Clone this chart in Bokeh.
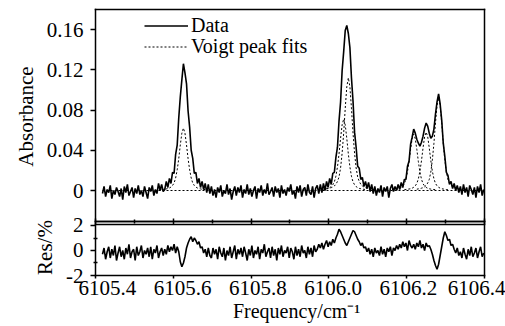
import math
from bokeh.plotting import figure
from bokeh.models import (Range1d, Legend, LegendItem, FixedTicker, LinearAxis, Label)
from bokeh.embed import file_html
from bokeh.resources import INLINE

# ---------------- data ----------------
freq_start = 6105.418      # cm-1, first sample
freq_step = 0.004          # cm-1, sampling step

absorbance = [
    -.003, .004, -.006, .001, -.002, .005, -.008, .000, -.004, .003,
    -.001, -.006, .002, -.009, .004, -.002, .006, -.005, -.001, .003,
    -.007, .002, -.003, .005, -.004, .000, -.006, .004, -.002, -.008,
    .003, -.001, .005, -.005, .001, -.003, .007, .000, .006, -.001,
    .001, .009, .003, .012, .007, .018, .017, .036, .045, .072,
    .093, .110, .126, .117, .106, .079, .063, .040, .032, .017,
    .018, .007, .012, .003, .009, .001, .007, -.002, .006, -.003,
    .004, -.005, .001, -.007, .003, -.002, .005, -.006, .000, -.003,
    .006, -.004, .002, -.009, -.001, .004, -.005, .003, -.002, .005,
    -.007, .001, -.003, .006, -.004, .002, -.006, .000, .004, -.008,
    .002, -.002, .005, -.005, .001, -.003, .007, -.004, -.001, .003,
    -.006, .004, -.002, .002, -.007, .005, -.003, .001, -.005, .003,
    -.001, .006, -.004, .000, -.008, .004, -.002, .005, -.006, .001,
    .003, -.005, .006, -.002, -.004, .004, -.007, .002, .005, -.003,
    .006, -.002, .007, .000, .009, .003, .012, .006, .017, .018,
    .033, .043, .069, .088, .119, .138, .159, .164, .156, .142,
    .112, .089, .058, .043, .024, .022, .011, .013, .004, .009,
    .002, .008, -.001, .006, -.003, .004, -.005, .002, -.002, .005,
    -.006, .003, -.001, .004, -.007, .002, .006, -.001, .004, .000,
    .006, .001, .008, .003, .011, .011, .024, .029, .046, .053,
    .061, .057, .051, .047, .044, .048, .054, .062, .067, .064,
    .057, .052, .054, .061, .076, .088, .096, .086, .070, .047,
    .034, .018, .015, .006, .009, .002, .007, .000, .005, -.002,
    .004, -.004, .006, -.002, .003, -.006, .005, .001, -.004, .003,
    -.007, .004, -.002, .006, -.005, .001,
]

residual_pct = [
    -.3, .2, -.7, -.1, .3, -.6, .1, -.4, .4, -.8,
    -.2, .3, -.5, .0, -.7, .2, -.3, .5, -.6, -.1,
    .1, -.8, .3, -.4, -.1, .4, -.6, .0, -.3, .2,
    -.5, .3, -.7, .1, -.2, .4, -.6, -.1, .2, -.4,
    .1, -.3, .4, -.1, .3, .0, .5, -.2, .3, -.1,
    -.9, -1.3, -1.0, -.5, .2, .6, .9, 1.1, .7, 1.0,
    .8, .5, .7, .2, .3, -.2, .1, -.5, .2, -.4,
    -.6, .2, -.3, .1, -.7, .3, -.2, -.5, .2, -.8,
    .0, -.4, .3, -.6, -.1, .4, -.7, .1, -.3, .2,
    -.5, .3, -.2, -.8, .1, -.4, .4, -.6, .0, -.3,
    .3, -.7, .1, -.2, .5, -.5, -.1, .2, -.6, .3,
    -.4, .1, -.8, .2, -.3, .4, -.5, .0, -.2, .3,
    -.6, .2, -.1, -.7, .3, -.4, .1, -.5, .4, -.2,
    .0, -.6, .3, -.3, .2, -.5, .4, -.1, .1, .5,
    .2, .6, .1, .5, .8, .3, .7, .4, .9, .6,
    1.0, 1.3, 1.7, 1.5, 1.2, .9, .6, .4, .7, 1.0,
    1.3, 1.6, 1.5, 1.2, .9, .7, .4, .6, .2, .3,
    -.1, .2, -.3, .1, -.5, .2, -.2, .0, -.4, .3,
    -.3, .1, -.5, .2, -.1, .3, -.4, .2, .0, .4,
    .1, .5, .2, .7, .3, .6, .0, .8, .4, .2,
    .5, .1, .6, .3, .8, .2, .5, .0, .6, .3,
    .4, .1, -.3, -.8, -1.2, -1.5, -1.1, -.4, .3, 1.0,
    1.5, 1.2, .8, .9, .4, .5, .1, -.2, .2, -.4,
    -.1, -.6, .2, -.3, -.7, .1, -.4, .3, -.5, -.2,
    .2, -.6, -.1, .3, -.5, -.2,
]

# Voigt peak-fit components, sampled on the same step, each from its start frequency
fit_starts = [6105.570, 6105.982, 6105.994, 6106.162, 6106.194, 6106.226]
fit_peak1 = [.0009, .0011, .0012, .0016, .0019, .0025, .0034, .005, .0074, .0124, .0205, .0316, .0453, .057, .062,
             .057, .0453, .0316, .0205, .0124, .0074, .005, .0034, .0025, .0019, .0016, .0012, .0011, .0009]
fit_peak2a = [.001, .0012, .0014, .0018, .0021, .0028, .0039, .0057, .0085, .0142, .0234, .0362, .0518, .0653, .071,
              .0653, .0518, .0362, .0234, .0142, .0085, .0057, .0039, .0028, .0021, .0018, .0014, .0012, .001]
fit_peak2b = [.0016, .0019, .0022, .0028, .0034, .0045, .0062, .009, .0134, .0224, .037, .0571, .0818, .103, .112,
              .103, .0818, .0571, .037, .0224, .0134, .009, .0062, .0045, .0034, .0028, .0022, .0019, .0016]
fit_peak3a = [.0008, .001, .0011, .0014, .0017, .0022, .0031, .0045, .0067, .0112, .0185, .0286, .0409, .0515, .056,
              .0515, .0409, .0286, .0185, .0112, .0067, .0045, .0031, .0022, .0017, .0014, .0011, .001, .0008]
fit_peak3b = [.0008, .001, .0012, .0015, .0017, .0023, .0032, .0046, .007, .0116, .0191, .0296, .0423, .0534, .058,
              .0534, .0423, .0296, .0191, .0116, .007, .0046, .0032, .0023, .0017, .0015, .0012, .001, .0008]
fit_peak3c = [.0013, .0016, .0018, .0023, .0028, .0037, .0051, .0074, .011, .0184, .0304, .0469, .0672, .0846, .092,
              .0846, .0672, .0469, .0304, .0184, .011, .0074, .0051, .0037, .0028, .0023, .0018, .0016, .0013]
fit_components = [fit_peak1, fit_peak2a, fit_peak2b, fit_peak3a, fit_peak3b, fit_peak3c]
fit_baseline = [0.0, 0.0]

x_ticks = [6105.4, 6105.6, 6105.8, 6106.0, 6106.2, 6106.4]
x_tick_labels = ["6105.4", "6105.6", "6105.8", "6106.0", "6106.2", "6106.4"]
x_minor_ticks = [6105.5, 6105.7, 6105.9, 6106.1, 6106.3]
abs_ticks = [0, 0.04, 0.08, 0.12, 0.16]
abs_tick_labels = ["0", "0.04", "0.08", "0.12", "0.16"]
res_ticks = [-2, 0, 2]
res_tick_labels = ["-2", "0", "2"]
res_minor_ticks = [-1, 1]

# ---------------- layout constants ----------------
# the plotting area covers the whole canvas; panels are drawn with fixed axes
X_LO, X_HI = 6105.155784, 6106.453985
LAB_LO, LAB_HI = 6105.115426, 6106.458511  # the original's tick labels sit on a slightly tighter scale
ABS_LO, ABS_HI = -0.135155, 0.188820       # absorbance scale
RES_LO, RES_HI = -6.08, 20.0               # residual (%) scale
panel_x = (6105.4, 6106.4)
abs_panel_top, abs_panel_bottom = 0.179876, -0.030311
res_panel_top, res_panel_bottom = 2.04, -2.0

FONT = "'Liberation Serif', 'Times New Roman', Times, serif"


def res_on_abs(r):
    return round(ABS_LO + (r - RES_LO) * (ABS_HI - ABS_LO) / (RES_HI - RES_LO), 6)


n = len(absorbance)
freq = [round(freq_start + freq_step * i, 3) for i in range(n)]

p = figure(width=505, height=326, output_backend="svg", toolbar_location=None,
           x_range=Range1d(X_LO, X_HI), y_range=Range1d(ABS_LO, ABS_HI),
           x_axis_location=None, y_axis_location=None, min_border=0)
p.extra_y_ranges = {"res": Range1d(RES_LO, RES_HI)}
p.extra_x_ranges = {"lab": Range1d(LAB_LO, LAB_HI)}
p.grid.visible = False
p.outline_line_color = None
p.background_fill_color = "white"
p.border_fill_color = "white"


def make_axis(loc, bounds, ticks=(), minor=(), **kw):
    ax = LinearAxis(fixed_location=loc, bounds=bounds,
                    ticker=FixedTicker(ticks=list(ticks), minor_ticks=list(minor)))
    ax.axis_line_width = 1.5
    ax.axis_line_color = "black"
    ax.axis_line_cap = "square"
    ax.major_tick_line_width = 1.5
    ax.minor_tick_line_width = 1.5
    ax.major_tick_line_color = "black"
    ax.minor_tick_line_color = "black"
    ax.major_tick_in = 0
    ax.major_tick_out = 0
    ax.minor_tick_in = 0
    ax.minor_tick_out = 0
    ax.major_label_text_font = FONT
    ax.major_label_text_font_size = "21px"
    ax.major_label_text_color = "black"
    for k, v in kw.items():
        setattr(ax, k, v)
    return ax


abs_bounds = (res_on_abs(res_panel_bottom), abs_panel_top)

# left axis: absorbance ticks and residual ticks on one line
y_ticks = list(abs_ticks) + [res_on_abs(r) for r in res_ticks]
y_labels = list(abs_tick_labels) + list(res_tick_labels)
left_ax = make_axis(panel_x[0], abs_bounds, y_ticks, [res_on_abs(r) for r in res_minor_ticks],
                    major_tick_out=5, minor_tick_in=2, minor_tick_out=2, major_label_standoff=7,
                    major_label_overrides=dict(zip(y_ticks, y_labels)))
p.add_layout(left_ax, "left")
p.add_layout(make_axis(panel_x[1], abs_bounds), "right")
p.add_layout(make_axis(abs_panel_top, panel_x), "above")

# bottom axis: tick marks on the data scale, labels where the original prints them
p.add_layout(make_axis(res_on_abs(res_panel_bottom), panel_x, [], x_ticks, minor_tick_out=3), "below")
label_ax = make_axis(res_on_abs(res_panel_bottom), panel_x, x_ticks, [],
                     x_range_name="lab", axis_line_color=None, major_label_standoff=5,
                     major_label_overrides=dict(zip(x_ticks, x_tick_labels)))
p.add_layout(label_ax, "below")

# separators between the panels (ticks crossing the upper one)
p.add_layout(make_axis(abs_panel_bottom, panel_x, [], x_ticks, minor_tick_in=3, minor_tick_out=3), "below")
p.add_layout(make_axis(abs_panel_bottom, panel_x, [], x_minor_ticks, minor_tick_in=2, minor_tick_out=2), "below")
p.add_layout(make_axis(res_on_abs(res_panel_top), panel_x), "below")

# absorbance panel: fits (dotted) then data (solid)
fit_r = p.line([freq[0], freq[-1]], fit_baseline, line_color="black", line_width=1, line_dash="2 2")
for start, vals in zip(fit_starts, fit_components):
    xs = [round(start + freq_step * k, 3) for k in range(len(vals))]
    p.line(xs, vals, line_color="black", line_width=1, line_dash="2 2")
data_r = p.line(freq, absorbance, line_color="black", line_width=1.6)

# residual panel
p.line(freq, residual_pct, line_color="black", line_width=1.6, y_range_name="res")

# axis titles
p.add_layout(Label(x=6105.2201, y=0.0735, text="Absorbance", angle=math.pi / 2,
                   text_align="center", text_baseline="middle",
                   text_font=FONT, text_font_size="21px", text_color="black"))
p.add_layout(Label(x=6105.2689, y=0.24, y_range_name="res", text="Res/%", angle=math.pi / 2,
                   text_align="center", text_baseline="middle",
                   text_font=FONT, text_font_size="21px", text_color="black"))
p.add_layout(Label(x=6105.917, y=-0.1193, text="Frequency/cm\u207b\u00b9",
                   text_align="center", text_baseline="middle",
                   text_font=FONT, text_font_size="20px", text_color="black"))


def make_legend(item, loc):
    return Legend(items=[item], location=loc, orientation="vertical",
                  label_text_font=FONT, label_text_font_size="20px", label_text_color="black",
                  glyph_width=44, glyph_height=21, label_height=21, label_standoff=3,
                  spacing=0, padding=0, margin=0,
                  border_line_color=None, background_fill_alpha=0)


p.add_layout(make_legend(LegendItem(label="Data", renderers=[data_r]), (144, 289)))
p.add_layout(make_legend(LegendItem(label="Voigt peak fits", renderers=[fit_r]), (144, 268)))

open("out.html", "w").write(file_html(p, INLINE))
